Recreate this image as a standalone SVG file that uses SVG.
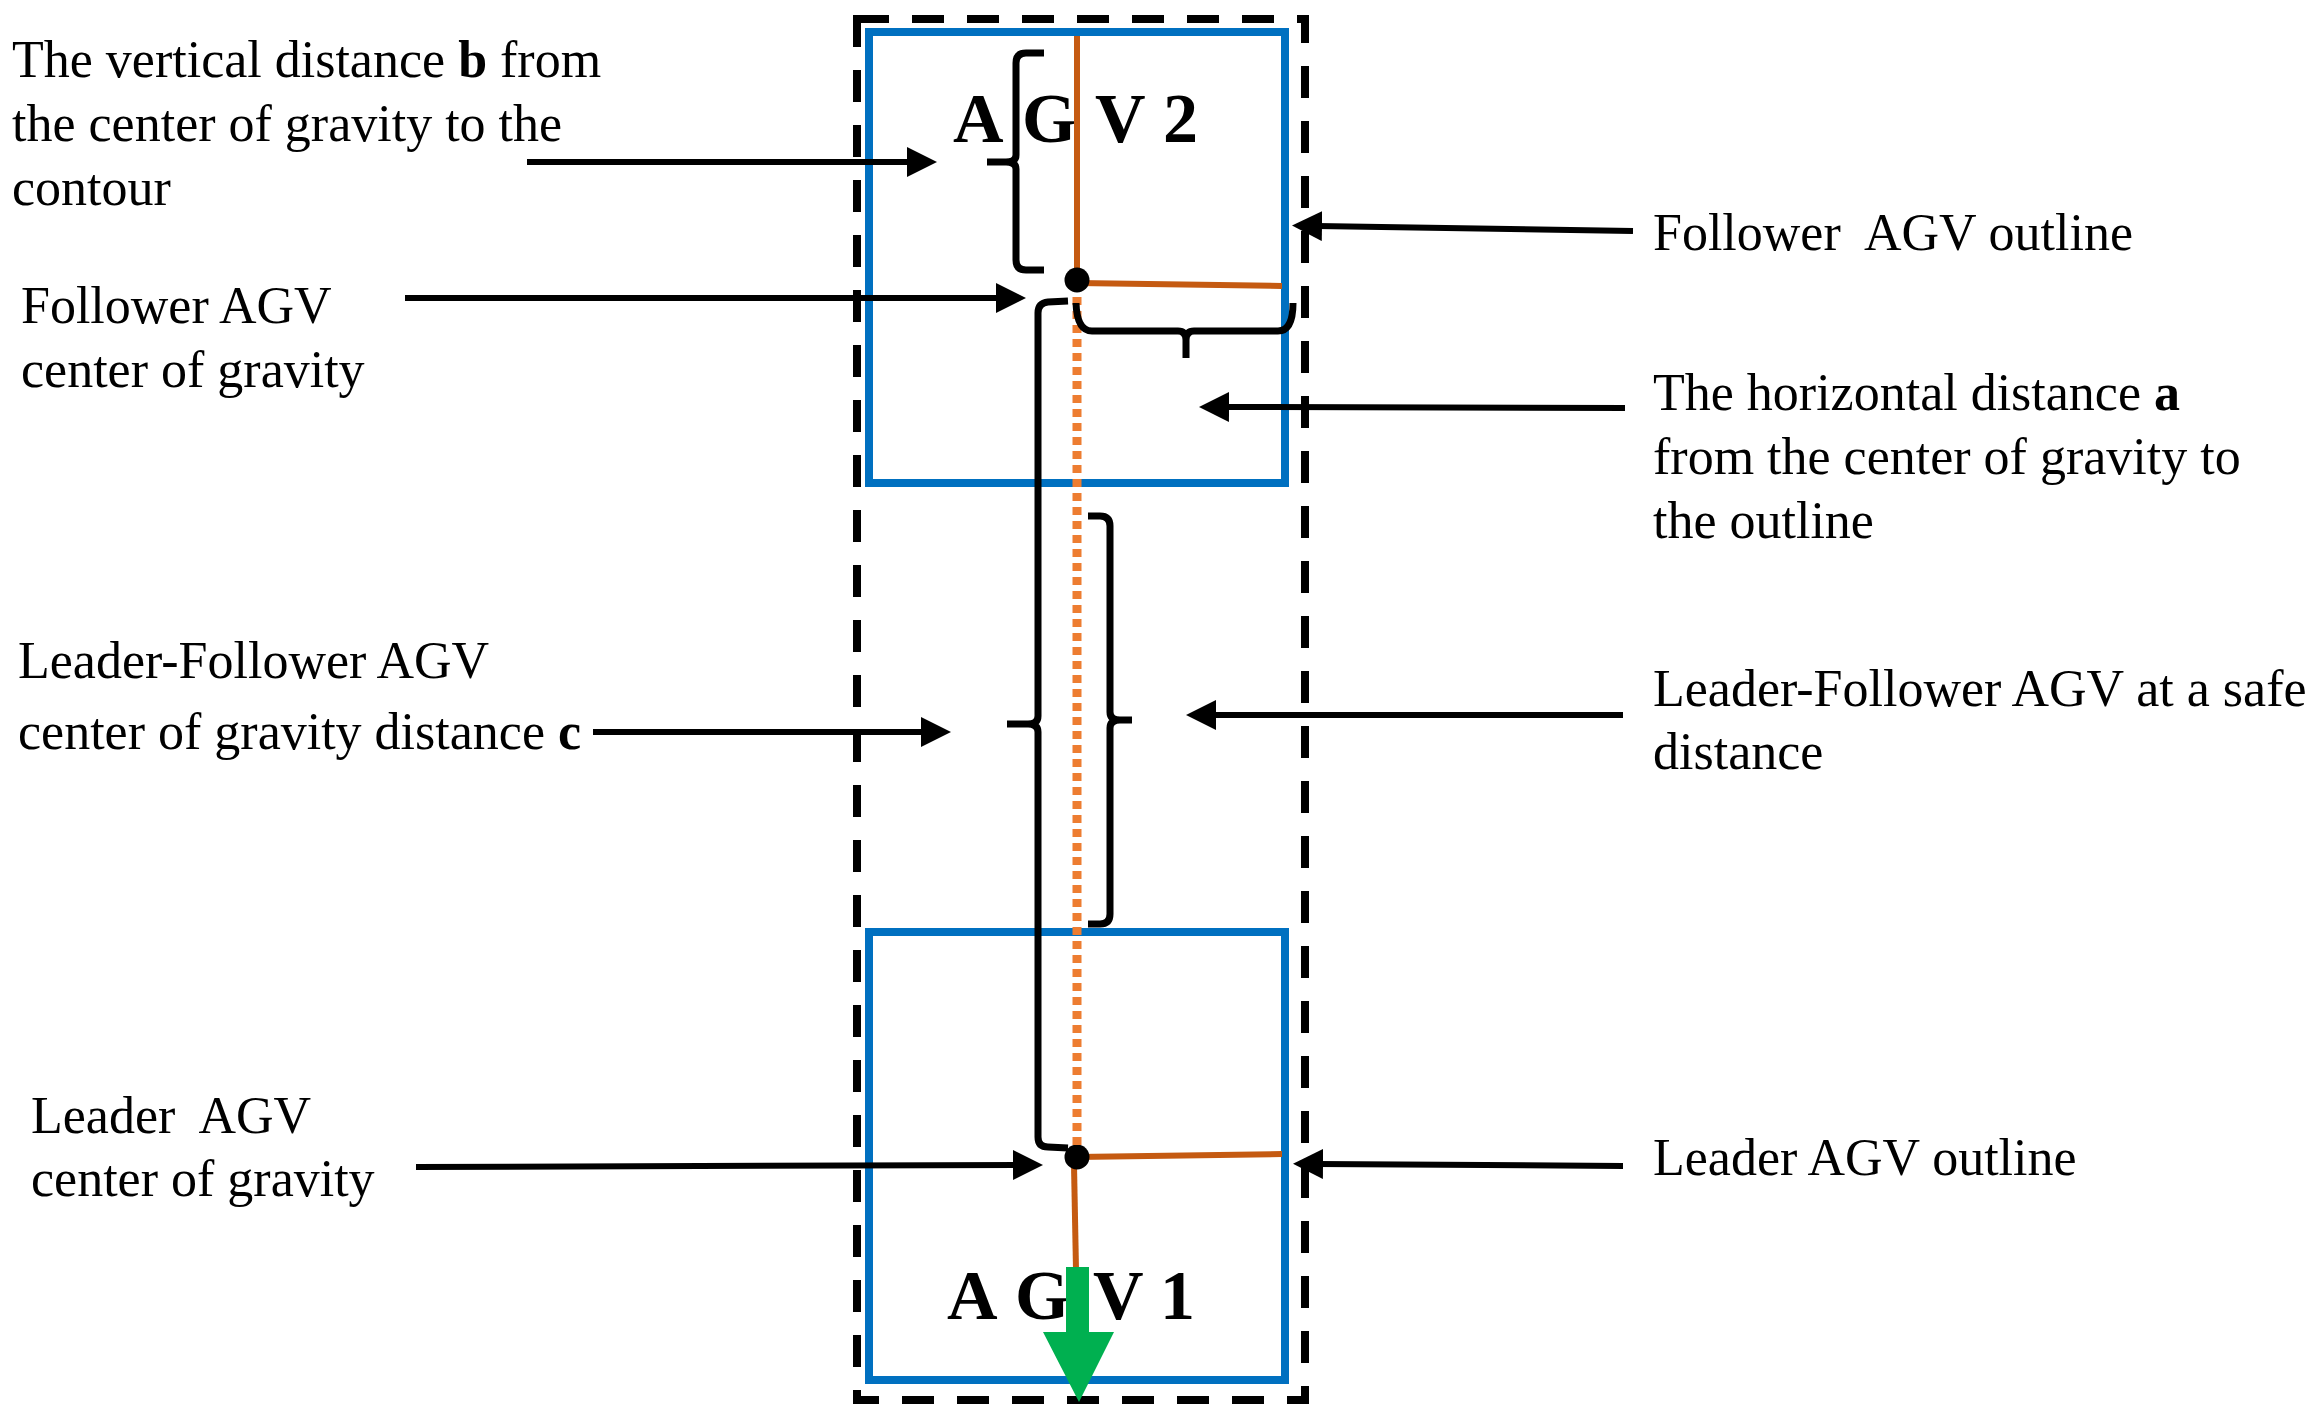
<svg xmlns="http://www.w3.org/2000/svg" width="2324" height="1428" viewBox="0 0 2324 1428">
<style>
.lbl{font-family:"Liberation Serif","Times New Roman",serif;font-size:52px;fill:#000;white-space:pre}
.b{font-weight:bold}
.agv{font-family:"Liberation Serif","Times New Roman",serif;font-size:70px;font-weight:bold;fill:#000}
.box{fill:none;stroke:#0070C0;stroke-width:8}
.zone{fill:none;stroke:#000;stroke-width:8;stroke-dasharray:32 23}
.or{stroke:#C55A11;stroke-width:6;fill:none}
.dot{stroke:#ED7D31;stroke-width:9;stroke-dasharray:8 6;fill:none}
.br{fill:none;stroke:#000;stroke-width:7;stroke-linecap:butt;stroke-linejoin:round}
.ar{stroke:#000;stroke-width:6;fill:none}
</style>
<defs>
<marker id="ah" markerUnits="userSpaceOnUse" markerWidth="32" markerHeight="32" refX="5" refY="15" orient="auto">
<path d="M0,0 L30,15 L0,30 z" fill="#000"/>
</marker>
</defs>
<rect width="2324" height="1428" fill="#fff"/>

<g id="safety-zone">
<rect class="zone" x="857" y="19" width="448" height="1381"/>
</g>

<g id="agv2">
<rect class="box" x="869" y="32" width="416" height="451"/>
<text class="agv" y="142"><tspan x="953">A</tspan><tspan x="1022">G</tspan><tspan x="1095">V</tspan><tspan x="1163">2</tspan></text>
<line class="or" x1="1077" y1="36" x2="1077" y2="280"/>
<path class="or" d="M1077,283 L1282,286"/>
<circle cx="1077" cy="280" r="12.5" fill="#000"/>
</g>

<g id="agv1">
<rect class="box" x="869" y="932" width="416" height="448"/>
<text class="agv" y="1319"><tspan x="947">A</tspan><tspan x="1015">G</tspan><tspan x="1093">V</tspan><tspan x="1160">1</tspan></text>
<path class="or" d="M1077,1157 L1282,1154"/>
<path class="or" d="M1074,1165 L1076,1270"/>
<circle cx="1077" cy="1157" r="12.5" fill="#000"/>
<polygon id="direction" points="1066,1267 1089,1267 1089,1332 1114,1332 1079,1402 1043,1332 1066,1332" fill="#00B050"/>
</g>

<g id="cg-link">
<line class="dot" x1="1077" y1="297" x2="1077" y2="1146"/>
</g>

<g id="brackets">
<path id="brace-b" class="br" d="M1044,53 L1026,53 Q1016,53 1016,63 L1016,155 Q1016,162 1006,162 L987,162 M1006,162 Q1016,162 1016,169 L1016,260 Q1016,270 1026,270 L1044,270"/>
<path id="brace-a" class="br" d="M1076,303 Q1077,331 1092,331 L1178,331 Q1186,331 1186,340 L1186,358 M1186,340 Q1186,331 1194,331 L1278,331 Q1293,331 1293,303"/>
<path id="brace-c" class="br" d="M1068,301 L1048,302 Q1038,303 1038,313 L1038,716 Q1038,724 1028,724 L1007,724 M1028,724 Q1038,724 1038,732 L1038,1137 Q1038,1147 1048,1147 L1068,1148"/>
<path id="brace-safe" class="br" d="M1088,516 L1100,516 Q1110,516 1110,526 L1110,712 Q1110,720 1120,720 L1132,720 M1120,720 Q1110,720 1110,728 L1110,914 Q1110,924 1100,924 L1088,924"/>
</g>

<g id="label-b">
<text class="lbl" x="12" y="77">The vertical distance <tspan class="b">b</tspan> from</text>
<text class="lbl" x="12" y="141">the center of gravity to the</text>
<text class="lbl" x="12" y="205">contour</text>
</g>
<g id="label-follower-cg">
<text class="lbl" x="21" y="323">Follower AGV</text>
<text class="lbl" x="21" y="387">center of gravity</text>
</g>
<g id="label-c">
<text class="lbl" x="18" y="678">Leader-Follower AGV</text>
<text class="lbl" x="18" y="749">center of gravity distance <tspan class="b">c</tspan></text>
</g>
<g id="label-leader-cg">
<text class="lbl" x="31" y="1133">Leader  AGV</text>
<text class="lbl" x="31" y="1196">center of gravity</text>
</g>
<g id="label-follower-outline">
<text class="lbl" x="1653" y="250">Follower  AGV outline</text>
</g>
<g id="label-a">
<text class="lbl" x="1653" y="410">The horizontal distance <tspan class="b">a</tspan></text>
<text class="lbl" x="1653" y="474">from the center of gravity to</text>
<text class="lbl" x="1653" y="538">the outline</text>
</g>
<g id="label-safe">
<text class="lbl" x="1653" y="706">Leader-Follower AGV at a safe</text>
<text class="lbl" x="1653" y="769">distance</text>
</g>
<g id="label-leader-outline">
<text class="lbl" x="1653" y="1175">Leader AGV outline</text>
</g>

<g id="connectors">
<line class="ar" x1="527" y1="162" x2="912" y2="162" marker-end="url(#ah)"/>
<line class="ar" x1="405" y1="298" x2="1001" y2="298" marker-end="url(#ah)"/>
<line class="ar" x1="593" y1="732" x2="926" y2="732" marker-end="url(#ah)"/>
<line class="ar" x1="416" y1="1167" x2="1018" y2="1165" marker-end="url(#ah)"/>
<line class="ar" x1="1633" y1="231" x2="1317" y2="226" marker-end="url(#ah)"/>
<line class="ar" x1="1625" y1="408" x2="1224" y2="407" marker-end="url(#ah)"/>
<line class="ar" x1="1623" y1="715" x2="1211" y2="715" marker-end="url(#ah)"/>
<line class="ar" x1="1623" y1="1166" x2="1318" y2="1164" marker-end="url(#ah)"/>
</g>
</svg>
